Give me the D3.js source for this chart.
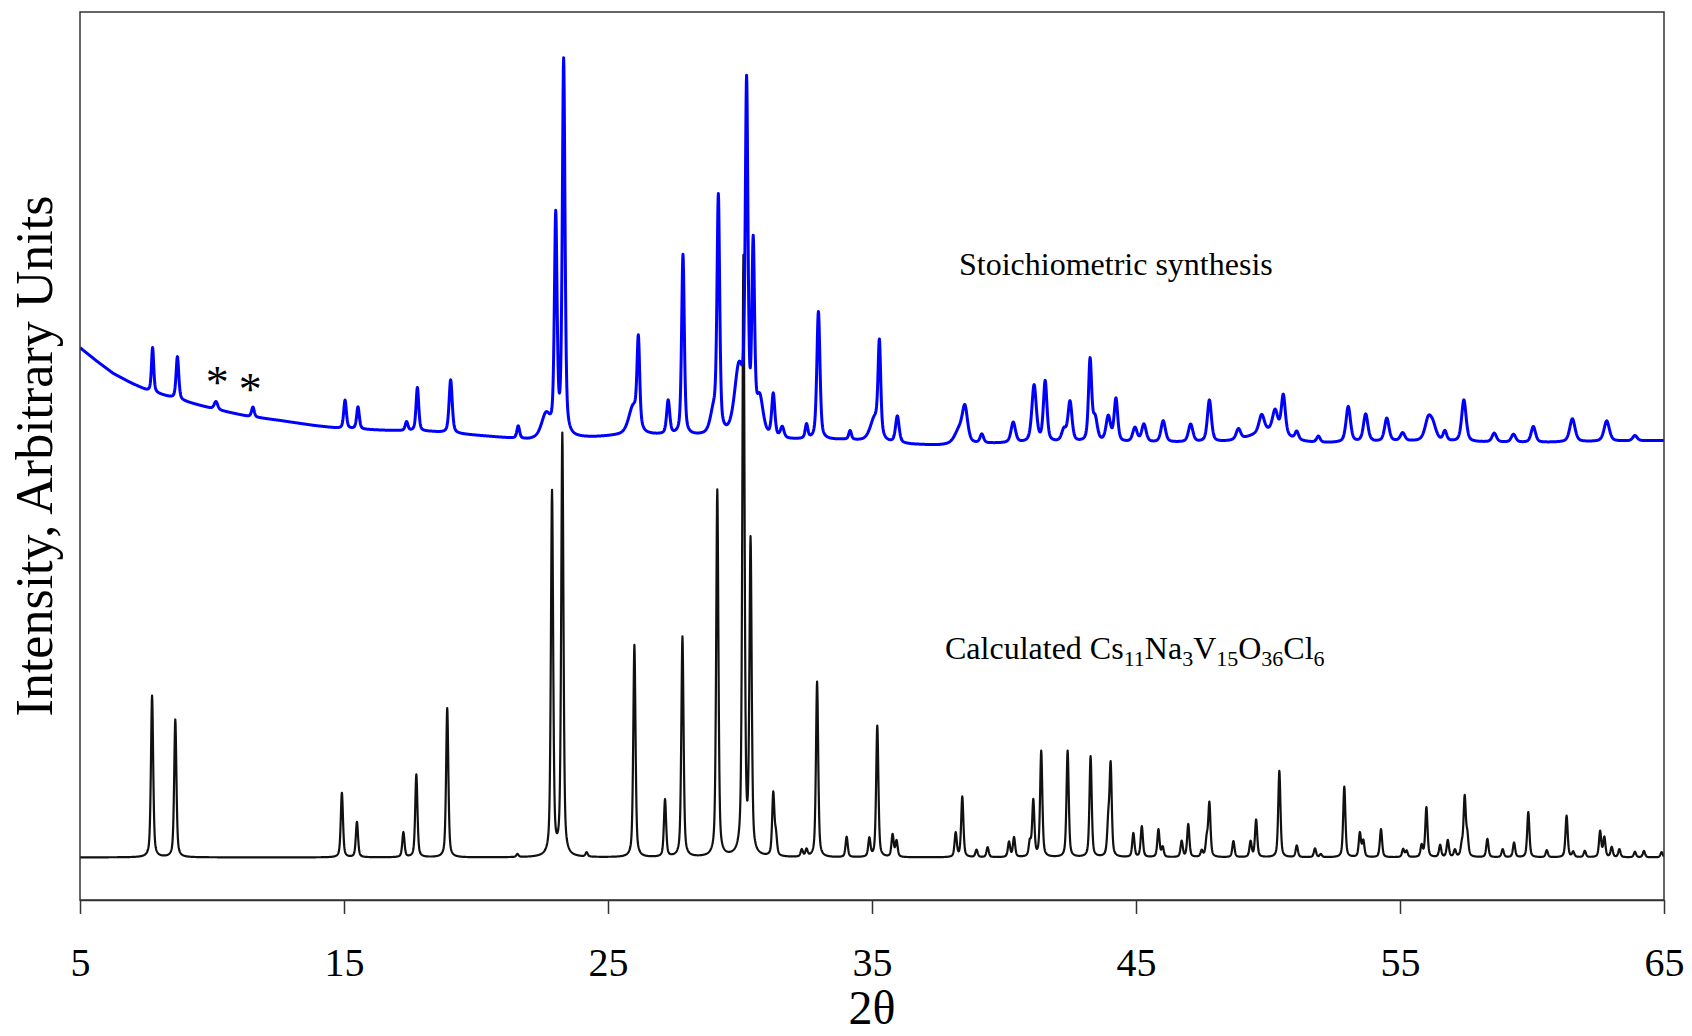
<!DOCTYPE html>
<html><head><meta charset="utf-8">
<script src="https://cdn.jsdelivr.net/npm/d3@7"></script>
<style>body{margin:0;background:#fff} svg{display:block}</style>
</head><body>
<svg id="c" width="1692" height="1036"></svg>
<script>
// ---------------- data ----------------
const xTicks = [5, 15, 25, 35, 45, 55, 65];

// calculated pattern: [2theta, peak height]
const calcPeaks = [
 [7.73,18.2],[8.61,15.5],[14.92,7.26],[15.49,3.98],[17.25,2.8],[17.74,9.32],[18.91,16.8],
 [21.57,0.34],[22.88,41.0],[23.27,47.5],[24.19,0.48],[26.0,23.9],[27.16,6.45],[27.82,24.8],
 [29.14,41.3],[30.13,67.2],[30.40,35.0],[31.26,7.0],[31.36,2.2],[32.34,0.8],[32.52,0.8],
 [32.92,19.75],[34.04,2.29],[34.9,2.06],[35.2,14.8],[35.78,2.5],[35.93,1.8],[38.17,2.7],
 [38.42,6.8],[38.96,0.83],[39.38,1.13],[40.19,1.7],[40.38,2.2],[40.98,1.6],[41.11,6.3],
 [41.41,11.9],[42.41,11.97],[43.28,11.35],[43.95,3.5],[44.04,10.2],[44.9,2.67],[45.22,3.45],
 [45.85,3.1],[46.01,1.1],[46.73,1.8],[46.98,3.7],[47.49,0.7],[47.68,1.9],[47.78,6.0],
 [48.69,1.81],[49.34,1.75],[49.55,4.2],[50.43,9.72],[51.09,1.32],[51.78,0.99],[52.0,0.34],
 [52.89,7.95],[53.48,2.7],[53.61,1.8],[54.28,3.16],[55.12,0.9],[55.25,0.7],[55.82,1.3],
 [56.0,5.6],[56.52,1.35],[56.81,1.9],[57.08,0.79],[57.34,1.2],[57.45,6.6],[57.55,2.2],
 [58.31,2.06],[58.89,0.9],[59.32,1.64],[59.86,5.09],[60.56,0.79],[61.31,4.68],[61.56,0.59],
 [62.0,0.71],[62.58,2.9],[62.74,2.2],[63.02,1.13],[63.31,0.9],[63.9,0.62],[64.24,0.71],[64.91,0.59]
];

// observed pattern ("Stoichiometric synthesis"): [2theta, height above background, half width]
const obsPeaks = [
 [7.75,5.0,0.05],[8.69,4.8,0.06],[10.15,0.9,0.08],[11.55,1.1,0.06],[15.04,3.2,0.06],
 [15.53,2.5,0.06],[17.37,1.0,0.06],[17.78,4.9,0.06],[19.04,6.0,0.07],[21.6,1.4,0.06],
 [22.65,2.6,0.2],[23.02,24.5,0.06],[23.32,42.3,0.06],[25.95,3.0,0.2],[26.15,9.7,0.06],
 [27.28,3.8,0.07],[27.84,20.3,0.06],[29.0,2.5,0.15],[29.18,26.1,0.06],[29.96,7.5,0.2],
 [30.25,38.0,0.06],[30.5,20.5,0.06],[30.75,4.0,0.15],[31.26,4.8,0.07],[31.6,1.2,0.08],
 [32.52,1.6,0.06],[32.97,14.4,0.07],[34.17,1.0,0.06],[35.1,2.5,0.2],[35.28,10.2,0.06],
 [35.96,3.0,0.08],[38.3,1.5,0.2],[38.52,3.8,0.12],[39.16,1.0,0.08],[40.35,2.3,0.1],
 [41.14,6.4,0.1],[41.56,6.8,0.08],[42.27,1.3,0.1],[42.5,4.5,0.09],[43.26,9.1,0.07],
 [43.45,2.5,0.1],[43.95,2.8,0.1],[44.24,4.8,0.08],[44.96,1.6,0.1],[45.3,2.0,0.1],
 [46.03,2.4,0.1],[47.07,2.0,0.1],[47.78,4.7,0.09],[48.88,1.2,0.1],[49.76,2.0,0.12],
 [50.0,1.2,0.8],[50.27,2.5,0.12],[50.58,4.5,0.09],[51.09,0.9,0.08],[51.91,0.7,0.08],
 [53.04,4.0,0.1],[53.7,3.1,0.1],[54.5,2.6,0.1],[55.1,0.9,0.1],[56.07,2.3,0.15],
 [56.25,1.5,0.15],[56.7,1.1,0.08],[57.42,4.7,0.1],[58.57,1.0,0.1],[59.3,0.9,0.1],
 [60.05,1.8,0.1],[61.53,2.6,0.12],[62.83,2.3,0.12],[63.9,0.6,0.1]
];

// observed background level: [2theta, intensity]
const obsBackground = [
 [5,57.4],[5.63,55.9],[6.26,54.5],[6.89,53.5],[7.53,52.6],[8.79,51.5],[10.05,50.5],[11.31,49.7],
 [12.58,49.2],[13.84,48.65],[14.85,48.3],[16.5,48.1],[18.3,47.95],[20.5,47.4],[22,47.0],[24.5,47.3],
 [26,47.6],[28.5,47.4],[31.8,47.0],[34,47.0],[36.5,46.5],[37.5,46.4],[39.5,46.6],[42,46.7],
 [45,46.7],[48.5,46.7],[52,46.6],[55,46.85],[60,46.7],[65,46.95]
];

const labelObs = "Stoichiometric synthesis";
const labelCalc = [["Calculated Cs",0],["11",1],["Na",0],["3",1],["V",0],["15",1],["O",0],["36",1],["Cl",0],["6",1]];
const xTitle = "2θ";
const yTitle = "Intensity, Arbitrary Units";
const impurityMarks = [10.2, 11.45];

// ---------------- drawing ----------------
const W = 1692, H = 1036, m = {l: 80, r: 28, t: 12, b: 136};
const svg = d3.select("#c");
const FONT = "'Liberation Serif','Times New Roman',Times,serif";

const x = d3.scaleLinear().domain([5, 65]).range([m.l, W - m.r]);
const y = d3.scaleLinear().domain([-4.8, 95.2]).range([H - m.b, m.t]);

function pv(t, x0, hw, eta) {
  const u = (t - x0) / hw;
  return eta / (1 + u * u) + (1 - eta) * Math.exp(-Math.LN2 * u * u);
}
const grid = d3.range(5, 65.0001, 0.01);
const bg = d3.scaleLinear().domain(obsBackground.map(d => d[0])).range(obsBackground.map(d => d[1]));
const calc = grid.map(t => [t, d3.sum(calcPeaks, p => Math.abs(t - p[0]) < 3 ? p[1] * pv(t, p[0], 0.05, 0.5) : 0)]);
const obs = grid.map(t => [t, bg(t) + d3.sum(obsPeaks, p => Math.abs(t - p[0]) < 4 ? p[1] * pv(t, p[0], p[2], 0.5) : 0)]);

svg.append("clipPath").attr("id", "clip").append("rect")
  .attr("x", m.l).attr("y", m.t).attr("width", W - m.l - m.r).attr("height", H - m.t - m.b);

const line = d3.line().x(d => x(d[0])).y(d => y(d[1]));
const g = svg.append("g").attr("clip-path", "url(#clip)");
g.append("path").datum(calc).attr("d", line).attr("fill", "none")
  .attr("stroke", "#111").attr("stroke-width", 2.2).attr("stroke-linejoin", "round");
g.append("path").datum(obs).attr("d", line).attr("fill", "none")
  .attr("stroke", "#0000ff").attr("stroke-width", 3).attr("stroke-linejoin", "round");

// frame
svg.append("rect").attr("x", m.l).attr("y", m.t).attr("width", W - m.l - m.r).attr("height", H - m.t - m.b)
  .attr("fill", "none").attr("stroke", "#333").attr("stroke-width", 1.5);

// x axis
const ax = svg.append("g").attr("transform", `translate(0,${H - m.b})`)
  .call(d3.axisBottom(x).tickValues(xTicks).tickSize(14).tickSizeOuter(0).tickFormat(d3.format("d")));
ax.select(".domain").attr("stroke", "#333").attr("stroke-width", 1.5);
ax.selectAll(".tick line").attr("stroke", "#333").attr("stroke-width", 1.5);
ax.selectAll(".tick text").attr("y", 76).attr("dy", null)
  .attr("font-family", FONT).attr("font-size", 40).attr("fill", "#000");

svg.append("text").attr("x", (m.l + W - m.r) / 2).attr("y", 1024).attr("text-anchor", "middle")
  .attr("font-family", FONT).attr("font-size", 48).text(xTitle);

svg.append("text").attr("transform", `translate(52,${(m.t + H - m.b) / 2}) rotate(-90)`)
  .attr("text-anchor", "middle").attr("font-family", FONT).attr("font-size", 52).text(yTitle);

// annotations
svg.append("text").attr("x", 959).attr("y", 275).attr("font-family", FONT).attr("font-size", 32).text(labelObs);
const tc = svg.append("text").attr("x", 945).attr("y", 659).attr("font-family", FONT).attr("font-size", 32);
labelCalc.forEach(([s, sub], i) => {
  const prev = i > 0 ? labelCalc[i - 1][1] : 0;
  tc.append("tspan").attr("dy", (sub - prev) * 7).attr("font-size", sub ? 22 : 32).text(s);
});

impurityMarks.forEach((d, i) => {
  svg.append("text").attr("x", x(d)).attr("y", i === 0 ? 398 : 405).attr("text-anchor", "middle")
    .attr("font-family", FONT).attr("font-size", 46).text("*");
});
</script>
</body></html>
